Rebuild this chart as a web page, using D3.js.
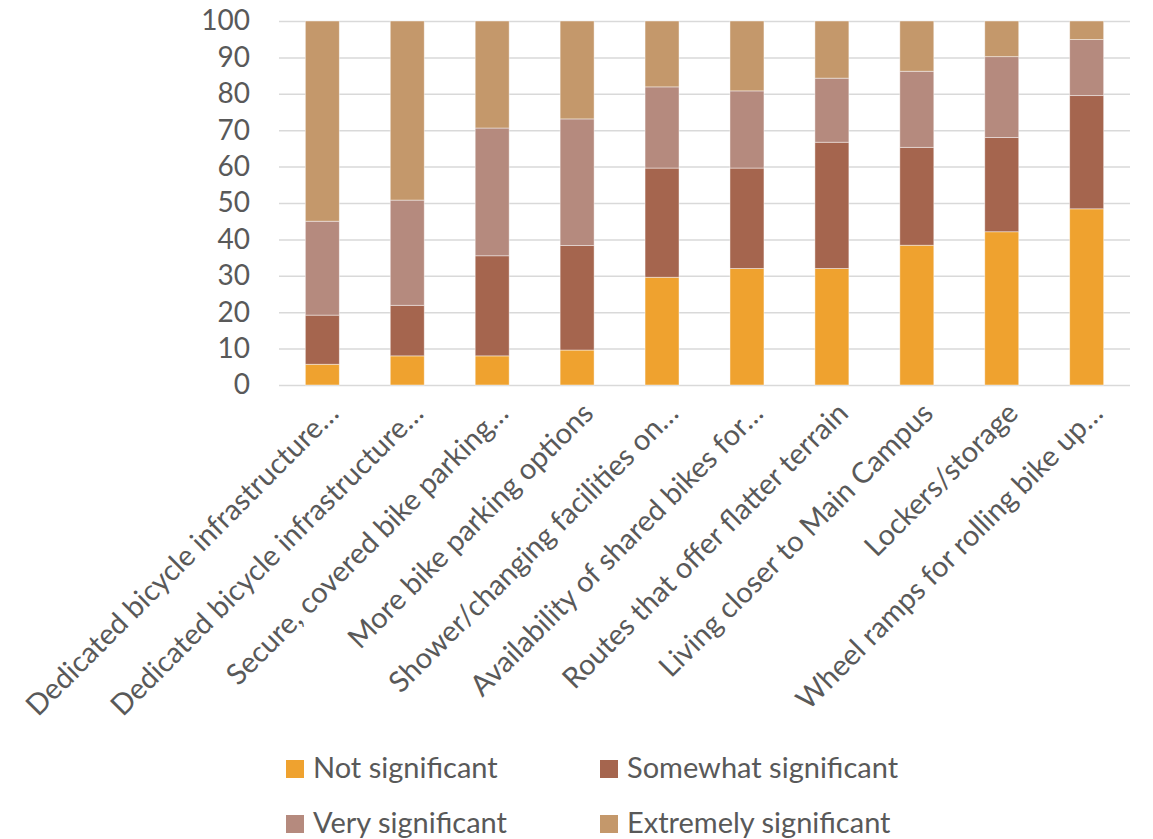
<!DOCTYPE html>
<html lang="en">
<head>
  <meta charset="UTF-8">
  <title>Cycling factors</title>
  <script src="https://d3js.org/d3.v7.min.js"></script>
  <style>
    body {
      margin: 0;
      background: #fff;
      font-family: 'Lato', 'Open Sans', sans-serif;
    }
    svg text {
      fill: #595959;
    }
  </style>
</head>
<body>
  <div id="chart"></div>

  <script>
    // Data
    const categories = [
      'Dedicated bicycle infrastructure…',
      'Dedicated bicycle infrastructure…',
      'Secure, covered bike parking…',
      'More bike parking options',
      'Shower/changing facilities on…',
      'Availability of shared bikes for…',
      'Routes that offer flatter terrain',
      'Living closer to Main Campus',
      'Lockers/storage',
      'Wheel ramps for rolling bike up…'
    ];
    const seriesNames = ['Not significant', 'Somewhat significant', 'Very significant', 'Extremely significant'];
    const notSignificant      = [5.7, 8.0, 8.0, 9.6, 29.6, 32.0, 32.0, 38.4, 42.1, 48.4];
    const somewhatSignificant = [13.5, 13.9, 27.5, 28.7, 30.0, 27.6, 34.7, 26.9, 25.9, 31.1];
    const verySignificant     = [25.8, 28.9, 35.1, 34.8, 22.3, 21.2, 17.6, 20.9, 22.2, 15.4];
    const extremelySignificant = [55.0, 49.2, 29.4, 26.9, 18.1, 19.2, 15.7, 13.8, 9.8, 5.1];
    const yTicks = [0, 10, 20, 30, 40, 50, 60, 70, 80, 90, 100];

    const colors = ['#EFA22F', '#A5654E', '#B58A7E', '#C4986B'];

    const width = 1153, height = 839;
    const margin = { top: 21, right: 23, bottom: 455, left: 279 };

    const svg = d3.select('#chart')
      .append('svg')
      .attr('width', width)
      .attr('height', height);

    // build rows for d3.stack
    const keys = ['ns', 'ss', 'vs', 'es'];
    const rows = categories.map((c, i) => ({
      idx: i,
      ns: notSignificant[i],
      ss: somewhatSignificant[i],
      vs: verySignificant[i],
      es: extremelySignificant[i]
    }));
    const stacked = d3.stack().keys(keys)(rows);

    const x = d3.scaleBand()
      .domain(d3.range(categories.length))
      .range([margin.left, width - margin.right])
      .paddingInner(0.6)
      .paddingOuter(0.31);

    const y = d3.scaleLinear()
      .domain([0, 100])
      .range([height - margin.bottom + 1, margin.top]);

    // gridlines + tick labels
    const yAxis = svg.append('g')
      .attr('transform', `translate(${margin.left},0)`)
      .call(d3.axisLeft(y).tickValues(yTicks).tickSize(-(width - margin.right - margin.left)).tickPadding(29));
    yAxis.select('.domain').remove();
    yAxis.selectAll('line').attr('stroke', '#d9d9d9').attr('stroke-width', 1.5);
    yAxis.selectAll('text')
      .attr('font-size', 28)
      .attr('font-family', "'Lato', 'Open Sans', sans-serif")
      .attr('fill', '#595959');

    // stacked bars
    svg.append('g')
      .selectAll('g')
      .data(stacked)
      .join('g')
      .attr('fill', (d, i) => colors[i])
      .selectAll('rect')
      .data(d => d)
      .join('rect')
      .attr('x', d => x(d.data.idx))
      .attr('y', d => y(d[1]))
      .attr('height', d => y(d[0]) - y(d[1]))
      .attr('width', x.bandwidth())
      .attr('stroke', 'rgba(255,255,255,0.55)')
      .attr('stroke-width', 0.8);

    // category labels, rotated -45deg, ending just right of each bar centre
    const xAxis = svg.append('g')
      .attr('transform', `translate(0,${y(0)})`)
      .call(d3.axisBottom(x).tickSize(0).tickFormat(i => categories[i]));
    xAxis.select('.domain').remove();
    xAxis.selectAll('text')
      .attr('font-size', 29)
      .attr('font-family', "'Lato', 'Open Sans', sans-serif")
      .attr('fill', '#595959')
      .attr('text-anchor', 'end')
      .attr('dy', 0)
      .attr('y', 0)
      .attr('transform', 'translate(18,30) rotate(-45)');

    // legend
    const legend = svg.append('g');
    const legendItems = legend.selectAll('g')
      .data(seriesNames)
      .join('g')
      .attr('transform', (d, i) => `translate(${286 + (i % 2) * 314},${778 + Math.floor(i / 2) * 55})`);
    legendItems.append('rect')
      .attr('x', 0)
      .attr('y', -18)
      .attr('width', 18)
      .attr('height', 18)
      .attr('fill', (d, i) => colors[i]);
    legendItems.append('text')
      .attr('x', 27)
      .attr('y', 0)
      .attr('font-size', 29)
      .text(d => d);
  </script>
</body>
</html>
